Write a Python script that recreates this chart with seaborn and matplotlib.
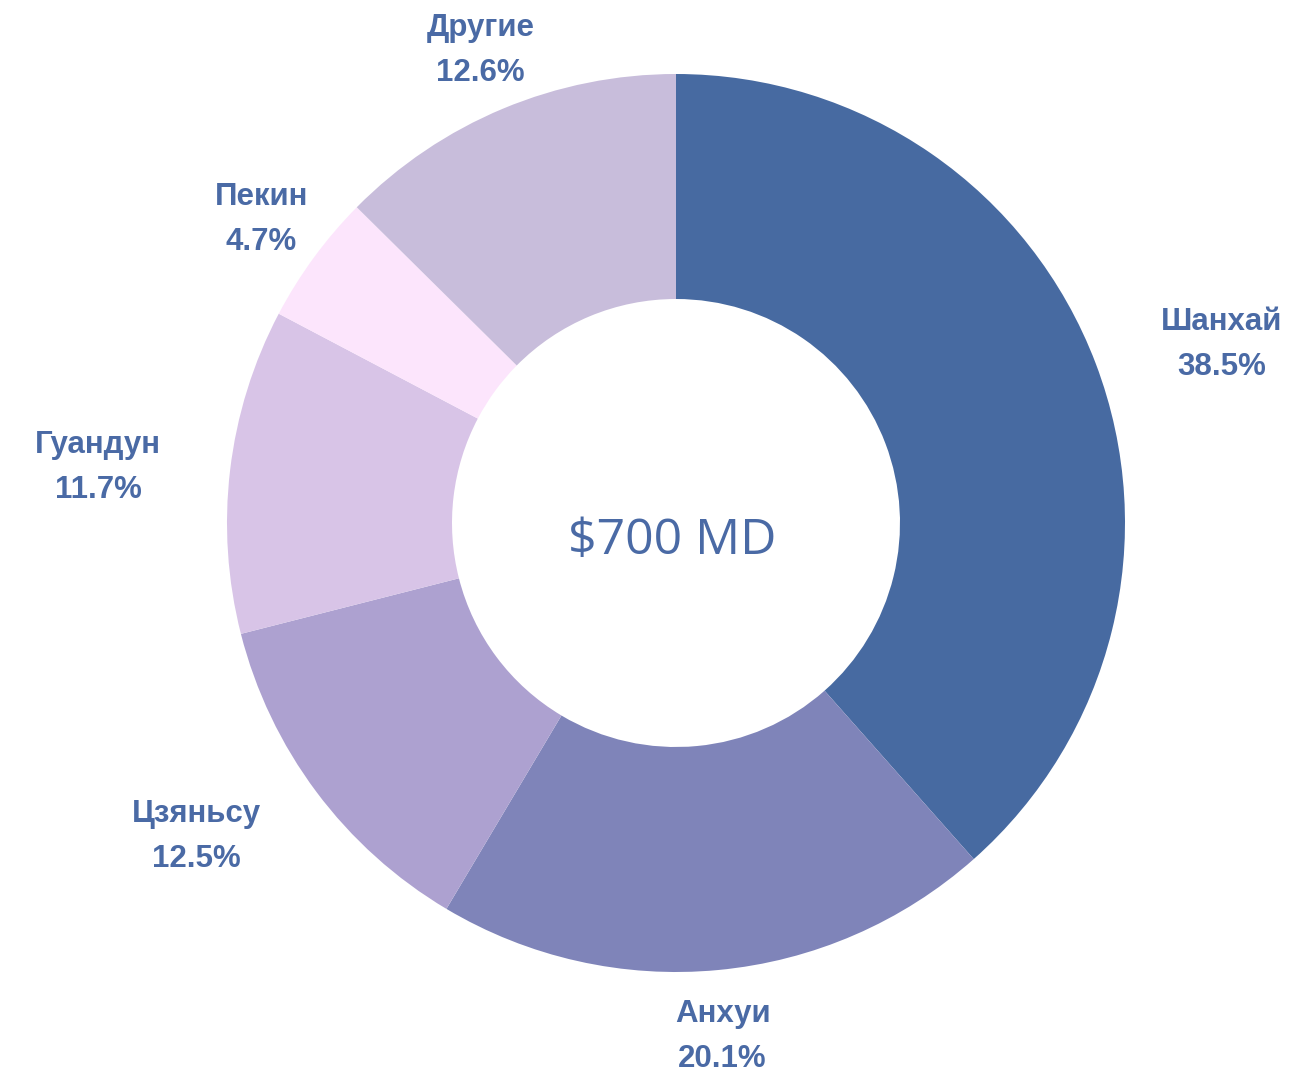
import numpy as np
import matplotlib.pyplot as plt
import seaborn as sns

# данные
regions = ['Шанхай', 'Анхуи', 'Цзяньсу', 'Гуандун', 'Пекин', 'Другие']
shares = [38.5, 20.1, 12.5, 11.7, 4.7, 12.6]
center_text = '$700 MD'

colors = sns.color_palette(['#476aa1', '#7f84b9', '#ada1d0', '#d8c4e7', '#fce5fc', '#c8bddb'])
text_color = '#4a6aa5'
# расстояние подписи от центра (px) и поправка угла (град.)
label_r = [575, 512, 571, 581, 516, 515]
label_shift = [-2.2, 0, -3.6, 1.2, 0, 0]

sns.set_theme(style='white')
plt.rcParams['font.family'] = ['Liberation Sans', 'DejaVu Sans']

fig = plt.figure(figsize=(12.91, 10.74), dpi=100)
ax = fig.add_axes([0, 0, 1, 1])
cx, cy = 676, 523
R = 449

ax.pie(shares, colors=colors, startangle=90, counterclock=False,
       radius=R, center=(cx, -cy), wedgeprops=dict(width=225, linewidth=0))

# подписи
cum = np.cumsum([0] + shares[:-1])
for name, val, c0, r, sh in zip(regions, shares, cum, label_r, label_shift):
    ang = np.deg2rad(90 - (c0 + val / 2) * 3.6 + sh)
    x = cx + r * np.cos(ang)
    y = -cy + r * np.sin(ang) - 3
    ax.text(x, y + 22, name, ha='center', va='center', fontsize=22.5,
            fontweight='bold', color=text_color)
    ax.text(x, y - 23, f'{val}%', ha='center', va='center', fontsize=22.5,
            fontweight='bold', color=text_color)

ax.text(672, -541, center_text, ha='center', va='center', fontsize=36,
        family=['Open Sans', 'DejaVu Sans'], color=text_color)

ax.set_xlim(0, 1291)
ax.set_ylim(-1074, 0)
ax.set_aspect('equal')
ax.axis('off')

fig.savefig('out.png', dpi=100)
